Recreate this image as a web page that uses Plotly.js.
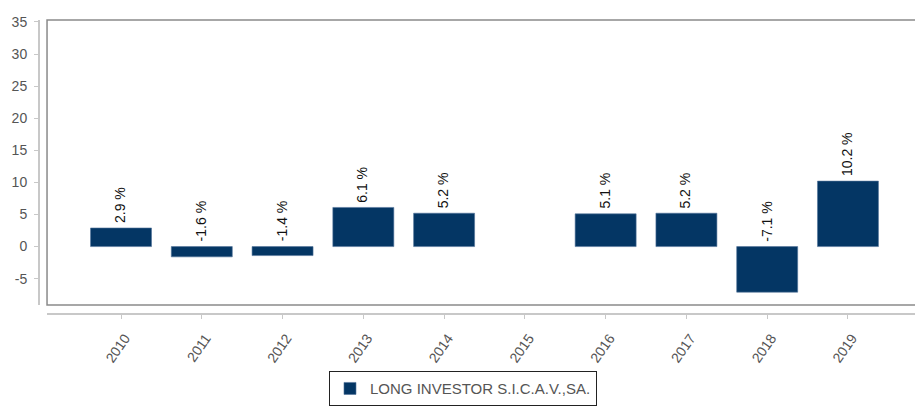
<!DOCTYPE html>
<html>
<head>
<meta charset="utf-8">
<script src="https://cdn.plot.ly/plotly-3.0.1.min.js"></script>
<style>html,body{margin:0;padding:0;background:#fff;}#chart{width:915px;height:407px;}</style>
</head>
<body>
<div id="chart"></div>
<script>
var years = ["2010","2011","2012","2013","2014","2015","2016","2017","2018","2019"];
var returns = [2.9, -1.6, -1.4, 6.1, 5.2, null, 5.1, 5.2, -7.1, 10.2];
var labels = ["2.9 %","-1.6 %","-1.4 %","6.1 %","5.2 %","","5.1 %","5.2 %","-7.1 %","10.2 %"];
var seriesName = "LONG INVESTOR S.I.C.A.V.,SA.";
var yTicks = [-5, 0, 5, 10, 15, 20, 25, 30, 35];

var FONT = 'Liberation Sans, Arial, sans-serif';

var annotations = [];
for (var i = 0; i < years.length; i++) {
  if (returns[i] === null) continue;
  annotations.push({
    x: i, y: Math.max(returns[i], 0), xref: 'x', yref: 'y',
    text: labels[i], showarrow: false, textangle: -90,
    xanchor: 'center', yanchor: 'bottom', yshift: 3, xshift: -1,
    font: {family: FONT, size: 14, color: '#111'}
  });
}

var trace = {
  type: 'bar', x: years, y: returns, name: seriesName,
  marker: {color: '#043664', line: {color: '#52749a', width: 0.6}},
  hoverinfo: 'skip'
};

var layout = {
  width: 915, height: 407,
  margin: {l: 38, r: 0, t: 20, b: 94},
  paper_bgcolor: '#fff', plot_bgcolor: '#fff',
  bargap: 0.245,
  showlegend: true,
  legend: {
    x: 0.3318, y: -0.318, xanchor: 'left', yanchor: 'bottom',
    bordercolor: '#222', borderwidth: 1, bgcolor: '#fff',
    font: {family: FONT, size: 15, color: '#555'}
  },
  xaxis: {
    type: 'category', domain: [0.0103, 1], range: [-0.916, 9.83],
    anchor: 'free', position: 0,
    showline: true, linecolor: '#c8c8c8', linewidth: 1.5,
    ticks: 'outside', ticklen: 4, tickcolor: '#c8c8c8', tickwidth: 1,
    tickangle: -55, showgrid: false, zeroline: false,
    ticklabelstandoff: 6, ticklabelshift: 4,
    tickfont: {family: FONT, size: 14, color: '#555'}
  },
  yaxis: {
    domain: [0.0273, 1], range: [-9.1, 35.3],
    anchor: 'free', position: 0,
    tickvals: yTicks, ticktext: yTicks.map(String),
    showline: true, linecolor: '#c8c8c8', linewidth: 1.5,
    ticks: 'outside', ticklen: 4, tickcolor: '#c8c8c8', tickwidth: 1,
    showgrid: false, zeroline: false, ticklabelstandoff: 4,
    tickfont: {family: FONT, size: 14, color: '#555'}
  },
  shapes: [{
    type: 'rect', xref: 'x domain', yref: 'y domain', x0: 0, x1: 1.02, y0: 0, y1: 1,
    line: {color: '#8a8a8a', width: 1.5}, fillcolor: 'rgba(0,0,0,0)', layer: 'below'
  }],
  annotations: annotations
};

Plotly.newPlot('chart', [trace], layout, {displayModeBar: false, staticPlot: true});
</script>
</body>
</html>
